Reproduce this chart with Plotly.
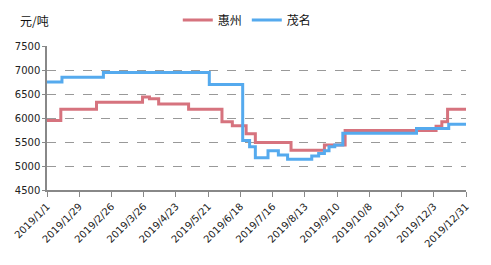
import plotly.graph_objects as go
import datetime as dt

# 惠州 (step series)
red_dates = ["2019-01-01", "2019-01-13", "2019-02-13", "2019-03-25", "2019-03-31", "2019-04-08",
             "2019-05-04", "2019-06-02", "2019-06-11", "2019-06-23", "2019-07-01", "2019-08-01",
             "2019-08-30", "2019-09-17", "2019-12-05", "2019-12-10", "2019-12-15", "2019-12-31"]
red_vals = [5950, 6180, 6330, 6440, 6400, 6290, 6180, 5920, 5840, 5670, 5490, 5330,
            5440, 5740, 5830, 5920, 6180, 6180]

# 茂名 (step series)
blue_dates = ["2019-01-01", "2019-01-14", "2019-02-19", "2019-05-22", "2019-06-20", "2019-06-26",
              "2019-07-01", "2019-07-12", "2019-07-21", "2019-07-29", "2019-08-19", "2019-08-25",
              "2019-08-30", "2019-09-03", "2019-09-08", "2019-09-15", "2019-11-18", "2019-12-16",
              "2019-12-31"]
blue_vals = [6750, 6850, 6950, 6700, 5530, 5400, 5170, 5320, 5230, 5140, 5210, 5260,
             5320, 5400, 5440, 5680, 5780, 5870, 5870]

# x tick labels every 28 days
start = dt.date(2019, 1, 1)
tick_dates = [start + dt.timedelta(days=28 * i) for i in range(14)]
tick_vals = [d.isoformat() for d in tick_dates]
tick_text = [f"{d.year}/{d.month}/{d.day}" for d in tick_dates]

y_ticks = [4500, 5000, 5500, 6000, 6500, 7000, 7500]

RED = "#D6737E"
BLUE = "#55AAEE"
FONT = "DejaVu Sans"
CJK = "Noto Sans CJK SC"

fig = go.Figure()
fig.add_trace(go.Scatter(x=red_dates, y=red_vals, name="惠州", mode="lines",
                         line=dict(color=RED, width=3, shape="hv")))
fig.add_trace(go.Scatter(x=blue_dates, y=blue_vals, name="茂名", mode="lines",
                         line=dict(color=BLUE, width=3, shape="hv")))

fig.update_layout(
    width=491, height=265,
    margin=dict(l=47, r=25, t=46, b=75, autoexpand=False),
    paper_bgcolor="white", plot_bgcolor="white",
    font=dict(family=FONT, size=10, color="#222"),
    showlegend=True,
    legend=dict(orientation="h", x=0.478, xanchor="center", y=1.18, yanchor="middle",
                font=dict(family=CJK, size=12, color="#111"),
                itemwidth=30, bgcolor="rgba(0,0,0,0)"),
    annotations=[dict(text="元/吨", x=(18 - 47) / 419, xref="paper", y=1.18, yref="paper",
                      showarrow=False, xanchor="left", yanchor="middle",
                      font=dict(family=CJK, size=12, color="#111"))],
)

fig.update_xaxes(
    type="date", range=["2019-01-01", "2019-12-31"],
    tickmode="array", tickvals=tick_vals, ticktext=tick_text, tickangle=-45,
    ticks="outside", ticklen=5, tickcolor="#888", tickwidth=1,
    showline=True, linecolor="#888", linewidth=1.5,
    showgrid=False, zeroline=False,
    tickfont=dict(family=FONT, size=10, color="#222"),
)
fig.update_yaxes(
    range=[4500, 7500], tickmode="array", tickvals=y_ticks,
    ticks="outside", ticklen=3, tickcolor="#888",
    showline=True, linecolor="#888", linewidth=1.5,
    showgrid=True, gridcolor="#999", griddash="dash", gridwidth=1,
    zeroline=False,
    tickfont=dict(family=FONT, size=10, color="#222"),
)

fig.write_html("out.html")
